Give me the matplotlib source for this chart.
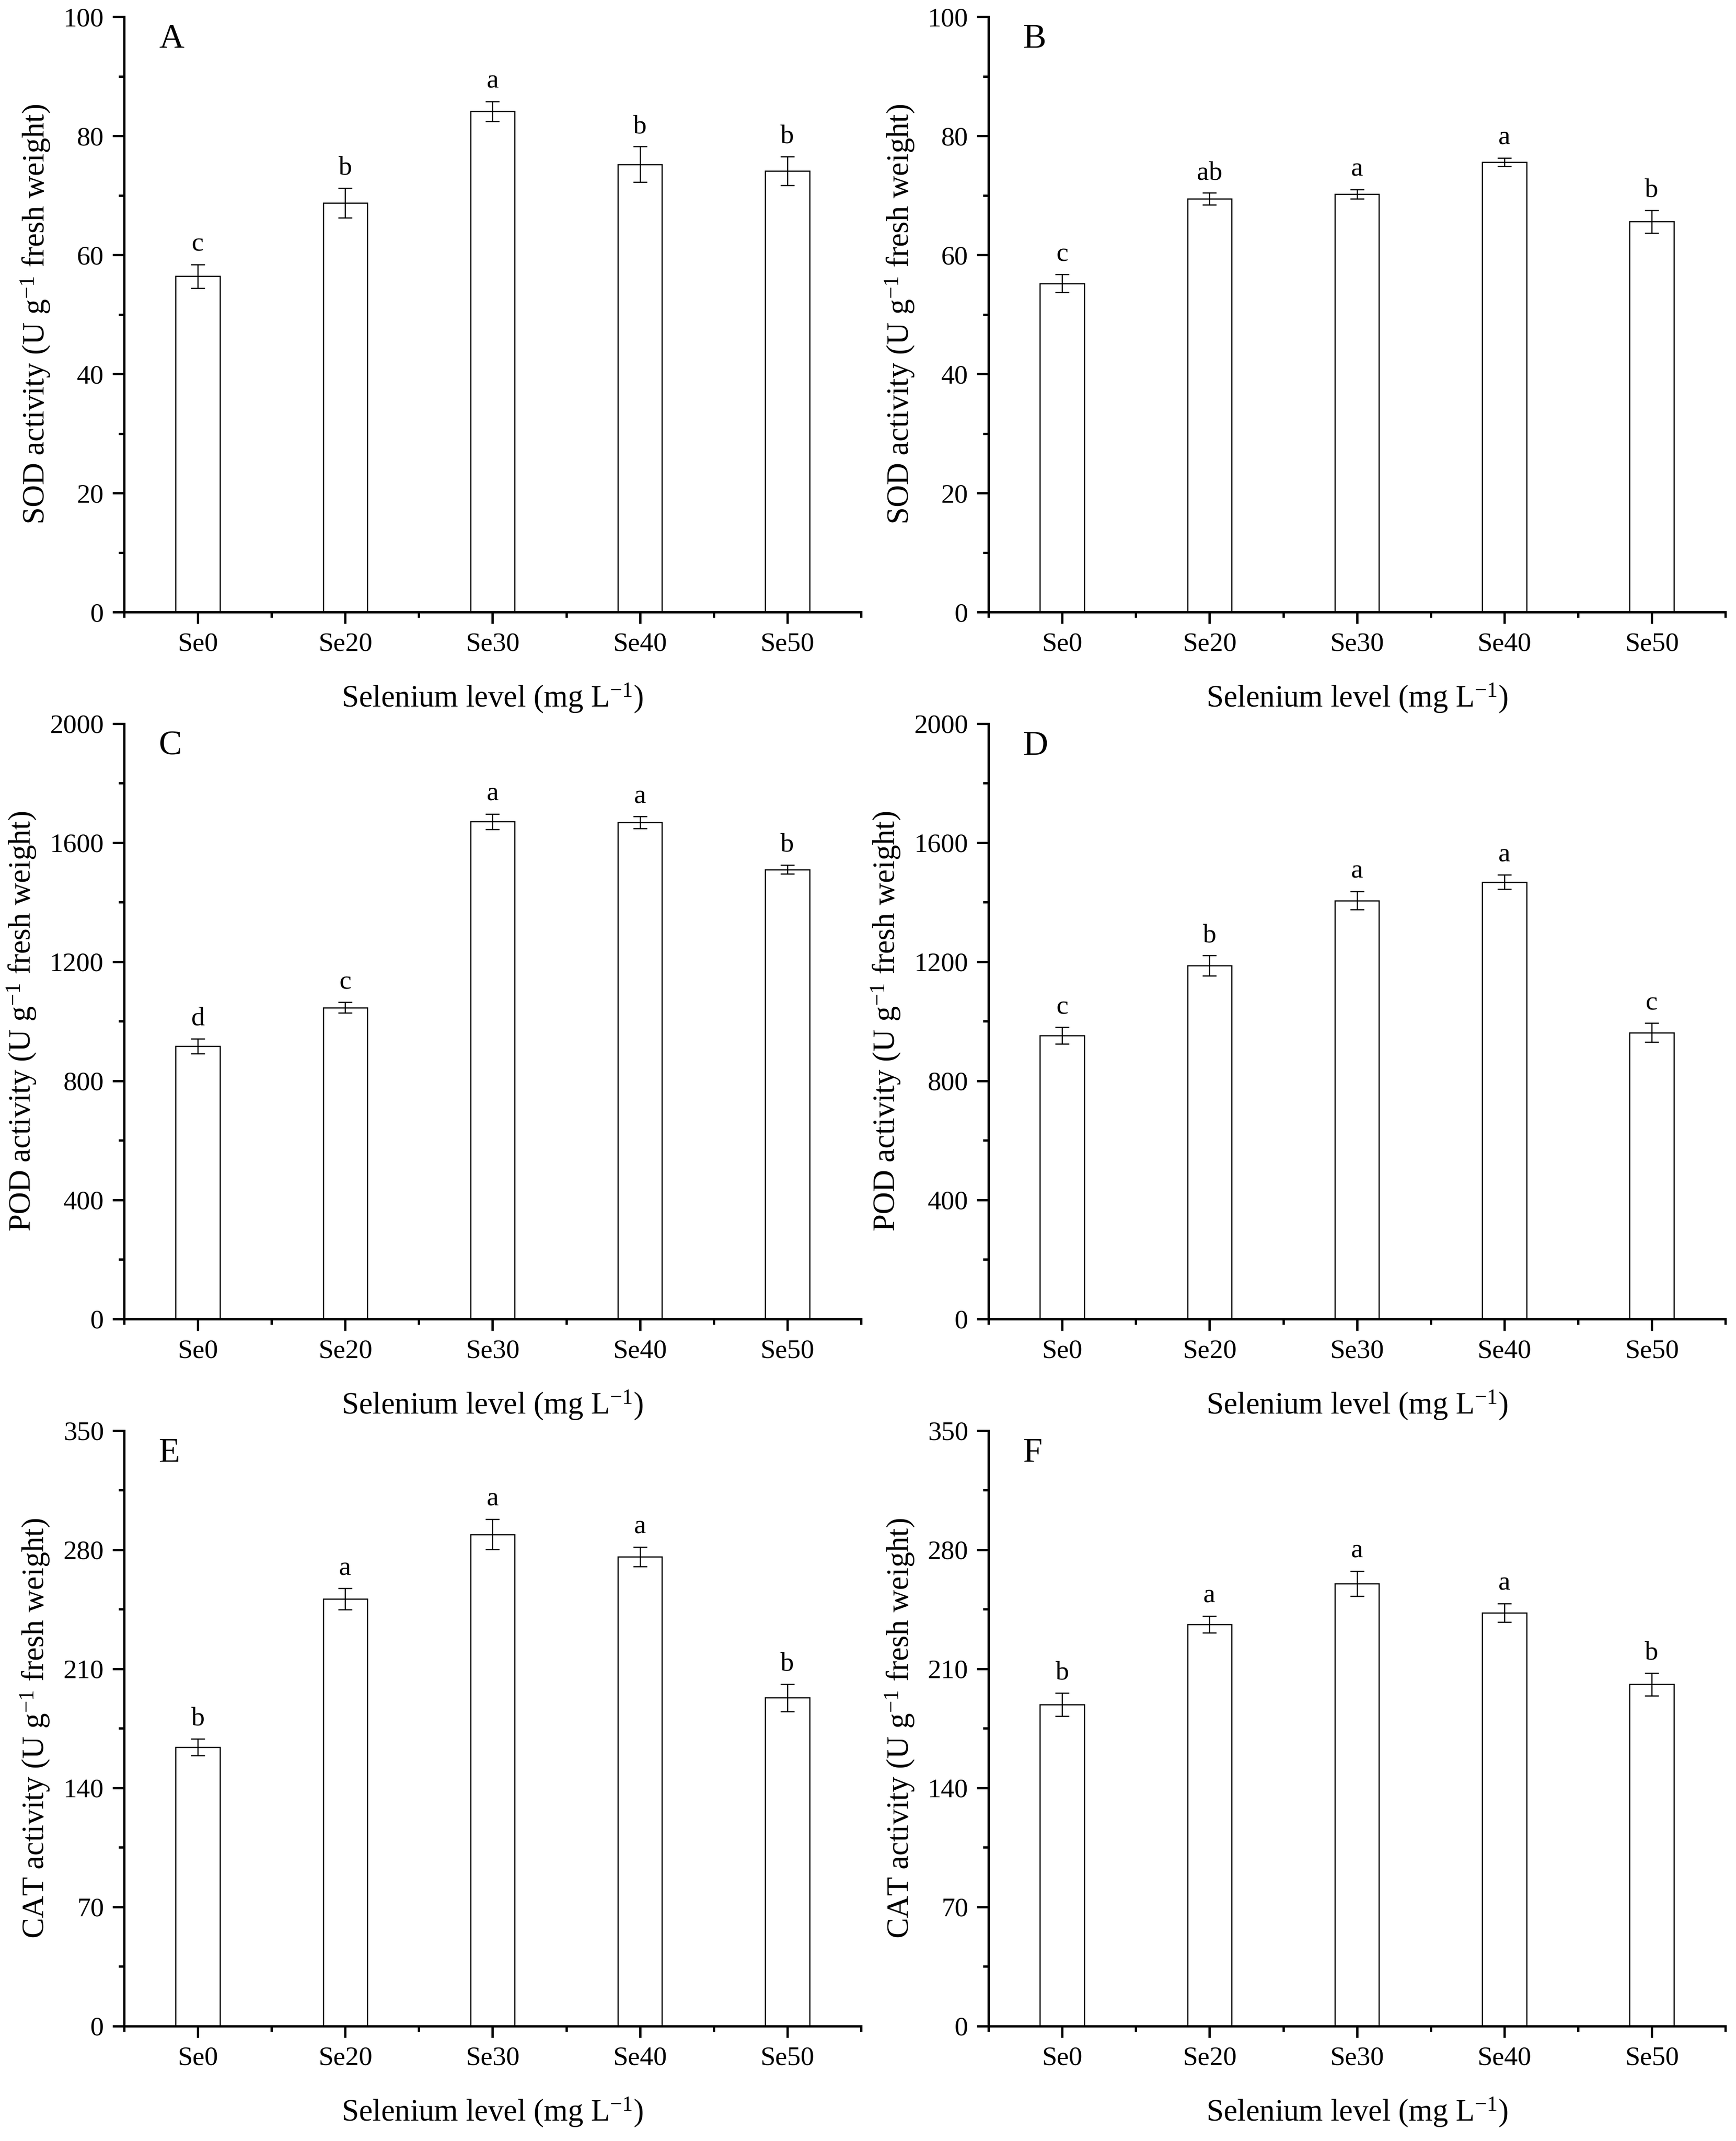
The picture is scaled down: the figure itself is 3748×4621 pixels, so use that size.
import matplotlib
matplotlib.use("Agg")
import matplotlib.pyplot as plt
from matplotlib.ticker import MultipleLocator, FixedLocator

plt.rcParams['font.family'] = ['Liberation Serif', 'DejaVu Serif']
plt.rcParams['mathtext.fontset'] = 'custom'
plt.rcParams['mathtext.rm'] = 'Liberation Serif'
plt.rcParams['mathtext.it'] = 'Liberation Serif:italic'

# Selenium treatments
categories = ['Se0', 'Se20', 'Se30', 'Se40', 'Se50']

# SOD activity
sod_a = [56.4, 68.7, 84.1, 75.2, 74.1]
sod_a_err = [2.0, 2.5, 1.7, 3.0, 2.4]
sod_a_sig = ['c', 'b', 'a', 'b', 'b']
sod_b = [55.2, 69.4, 70.2, 75.6, 65.6]
sod_b_err = [1.5, 1.0, 0.8, 0.7, 1.9]
sod_b_sig = ['c', 'ab', 'a', 'a', 'b']

# POD activity
pod_c = [917, 1046, 1671, 1668, 1510]
pod_c_err = [25, 18, 26, 20, 15]
pod_c_sig = ['d', 'c', 'a', 'a', 'b']
pod_d = [952, 1187, 1406, 1468, 962]
pod_d_err = [28, 34, 31, 24, 32]
pod_d_sig = ['c', 'b', 'a', 'a', 'c']

# CAT activity
cat_e = [163.9, 251.0, 289.0, 275.9, 193.0]
cat_e_err = [5.0, 6.2, 8.9, 5.8, 8.0]
cat_e_sig = ['b', 'a', 'a', 'a', 'b']
cat_f = [189.0, 236.2, 260.1, 242.9, 200.9]
cat_f_err = [6.9, 4.9, 7.3, 5.5, 6.7]
cat_f_sig = ['b', 'a', 'a', 'a', 'b']

panels = [
    ('A', sod_a, sod_a_err, sod_a_sig, 'SOD', 100, 20),
    ('B', sod_b, sod_b_err, sod_b_sig, 'SOD', 100, 20),
    ('C', pod_c, pod_c_err, pod_c_sig, 'POD', 2000, 400),
    ('D', pod_d, pod_d_err, pod_d_sig, 'POD', 2000, 400),
    ('E', cat_e, cat_e_err, cat_e_sig, 'CAT', 350, 70),
    ('F', cat_f, cat_f_err, cat_f_sig, 'CAT', 350, 70),
]

fig = plt.figure(figsize=(3748 / 300, 4621 / 300), dpi=300)

lefts = [0.0715, 0.5694]
bottoms = [0.7141, 0.3839, 0.0537]
w, h = 0.4245, 0.2781

x = list(range(len(categories)))

for i, (letter, vals, errs, sig, enzyme, ymax, step) in enumerate(panels):
    ax = fig.add_axes([lefts[i % 2], bottoms[i // 2], w, h])
    ax.bar(x, vals, width=0.3, color='white', edgecolor='black', linewidth=0.6, zorder=2)
    ax.errorbar(x, vals, yerr=errs, fmt='none', ecolor='black', elinewidth=0.6,
                capsize=3.7, capthick=0.6, zorder=3)
    for xi, v, e, s in zip(x, vals, errs, sig):
        ax.annotate(s, (xi, v + e), xytext=(0, 7), textcoords='offset points',
                    ha='center', va='baseline', fontsize=14)

    ax.set_xlim(-0.5, 4.5)
    ax.set_ylim(0, ymax)
    ax.set_xticks(x)
    ax.set_xticklabels(categories)
    ax.xaxis.set_minor_locator(FixedLocator([-0.5, 0.5, 1.5, 2.5, 3.5, 4.5]))
    ax.yaxis.set_major_locator(MultipleLocator(step))
    ax.yaxis.set_minor_locator(MultipleLocator(step / 2))

    for side in ['top', 'right']:
        ax.spines[side].set_visible(False)
    for side in ['left', 'bottom']:
        ax.spines[side].set_linewidth(1.2)

    ax.tick_params(which='major', direction='out', length=6, width=1.2, labelsize=14, pad=4.5)
    ax.tick_params(which='minor', direction='out', length=2.8, width=1.2)

    ax.set_xlabel(r'Selenium level (mg L$^{-1}$)', fontsize=16, labelpad=13)
    ax.set_ylabel(enzyme + r' activity (U g$^{-1}$ fresh weight)', fontsize=16, labelpad=6)

    ax.text(0.047, 0.948, letter, transform=ax.transAxes, fontsize=18,
            ha='left', va='baseline')

fig.savefig('out.png', dpi=300)
